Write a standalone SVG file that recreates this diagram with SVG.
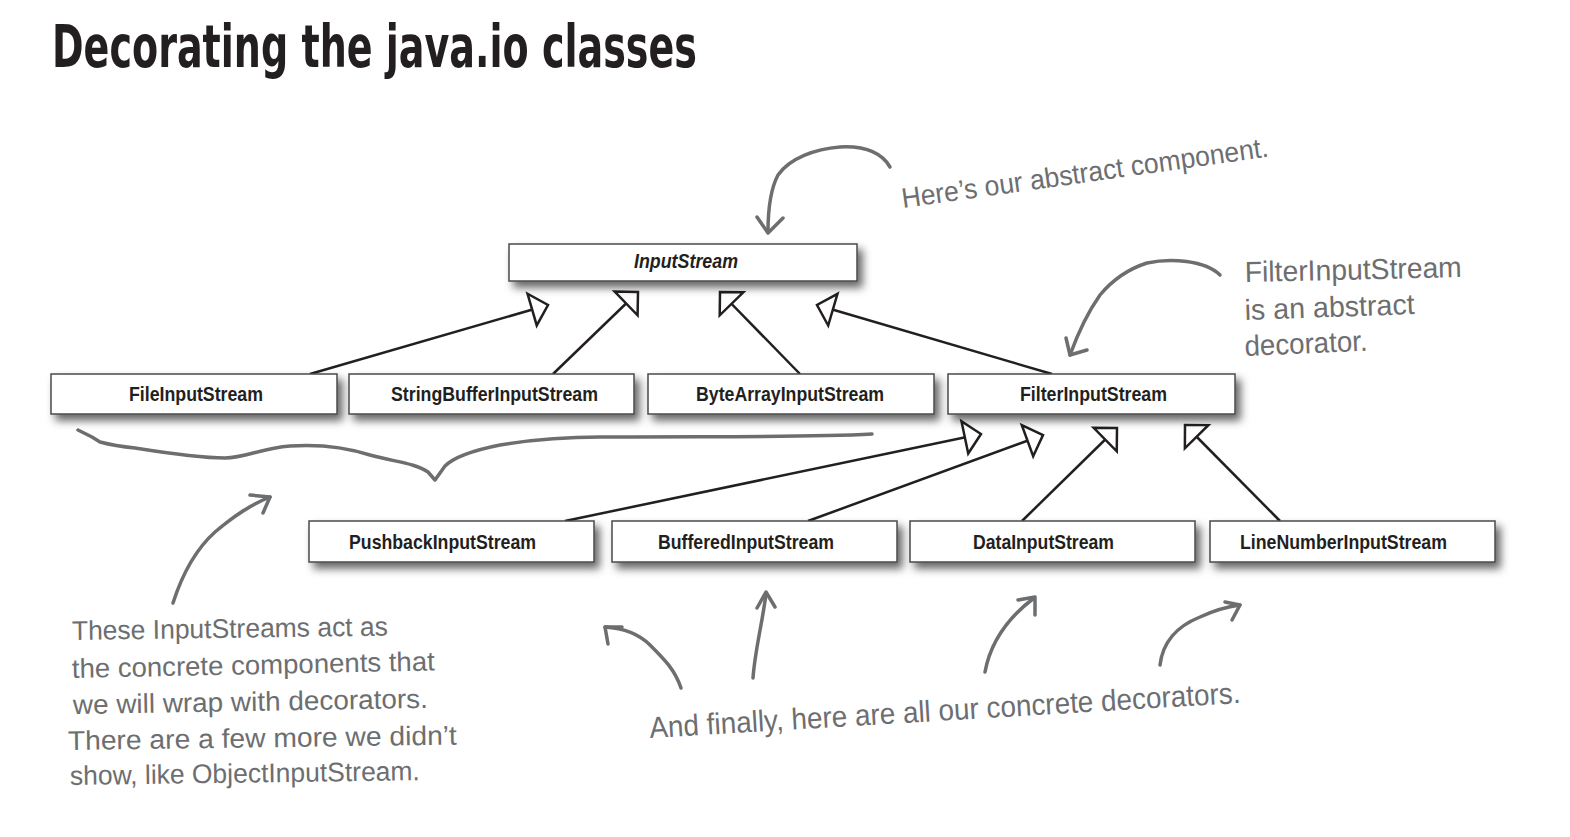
<svg xmlns="http://www.w3.org/2000/svg" width="1570" height="837" viewBox="0 0 1570 837">
<style>
.box{fill:#fff;stroke:#4a4a4a;stroke-width:1.5;filter:url(#sh)}
.lbl{font-family:"Liberation Sans",Arial,sans-serif;font-weight:bold;font-size:21px;fill:#231f20;text-anchor:start}
.edge{stroke:#231f20;stroke-width:2.5;fill:none;marker-end:url(#tri)}
.hand{font-family:"Liberation Sans","DejaVu Sans",sans-serif;fill:#6d6e70}
.pen{stroke:#6d6e70;stroke-width:3.5;fill:none;stroke-linecap:round;stroke-linejoin:round}
.title{font-family:"DejaVu Sans Condensed","DejaVu Sans",sans-serif;font-stretch:condensed;font-weight:bold;font-size:58px;fill:#231f20}
</style>
<defs>
<filter id="sh" x="-10%" y="-40%" width="125%" height="200%">
<feDropShadow dx="5" dy="6" stdDeviation="4" flood-color="#000" flood-opacity="0.6"/>
</filter>
<marker id="tri" markerUnits="userSpaceOnUse" orient="auto" overflow="visible" refX="0" refY="0" markerWidth="1" markerHeight="1">
<path d="M-16.5,-16.5 L0,0 L-16.5,16.5 Z" fill="#fff" stroke="#231f20" stroke-width="2.5" stroke-linejoin="miter"/>
</marker>
</defs>
<rect width="1570" height="837" fill="#fff"/>

<text class="title" x="52" y="67" textLength="645" lengthAdjust="spacingAndGlyphs">Decorating the java.io classes</text>

<g id="connectors">
<path class="edge" d="M310,374 L548,305"/>
<path class="edge" d="M553,374 L638,292"/>
<path class="edge" d="M800,374 L720,292"/>
<path class="edge" d="M1052,374 L817,305"/>
<path class="edge" d="M565,521 L981,434"/>
<path class="edge" d="M808,521 L1043,435"/>
<path class="edge" d="M1022,521 L1117,428"/>
<path class="edge" d="M1280,521 L1185,425"/>
</g>

<g id="InputStream"><rect class="box" x="509" y="244" width="348" height="37"/>
<text class="lbl" x="634" y="268" font-style="italic" textLength="104" lengthAdjust="spacingAndGlyphs">InputStream</text></g>
<g id="FileInputStream"><rect class="box" x="51" y="374" width="286" height="40"/>
<text class="lbl" x="129" y="401" textLength="134" lengthAdjust="spacingAndGlyphs">FileInputStream</text></g>
<g id="StringBufferInputStream"><rect class="box" x="349" y="374" width="285" height="40"/>
<text class="lbl" x="391" y="401" textLength="207" lengthAdjust="spacingAndGlyphs">StringBufferInputStream</text></g>
<g id="ByteArrayInputStream"><rect class="box" x="648" y="374" width="286" height="40"/>
<text class="lbl" x="696" y="401" textLength="188" lengthAdjust="spacingAndGlyphs">ByteArrayInputStream</text></g>
<g id="FilterInputStream"><rect class="box" x="948" y="374" width="287" height="40"/>
<text class="lbl" x="1020" y="401" textLength="147" lengthAdjust="spacingAndGlyphs">FilterInputStream</text></g>
<g id="PushbackInputStream"><rect class="box" x="309" y="521" width="285" height="41"/>
<text class="lbl" x="349" y="549" textLength="187" lengthAdjust="spacingAndGlyphs">PushbackInputStream</text></g>
<g id="BufferedInputStream"><rect class="box" x="612" y="521" width="285" height="41"/>
<text class="lbl" x="658" y="549" textLength="176" lengthAdjust="spacingAndGlyphs">BufferedInputStream</text></g>
<g id="DataInputStream"><rect class="box" x="910" y="521" width="285" height="41"/>
<text class="lbl" x="973" y="549" textLength="141" lengthAdjust="spacingAndGlyphs">DataInputStream</text></g>
<g id="LineNumberInputStream"><rect class="box" x="1210" y="521" width="285" height="41"/>
<text class="lbl" x="1240" y="549" textLength="207" lengthAdjust="spacingAndGlyphs">LineNumberInputStream</text></g>

<g id="annotations">
<path class="pen" d="M890,167 C880,150 860,146 840,147 C815,149 790,158 778,175 C770,190 768,215 768,232"/>
<path class="pen" d="M757,217 L768,233 L783,218"/>
<text class="hand" font-size="28" transform="translate(903,208) rotate(-8)" textLength="370" lengthAdjust="spacingAndGlyphs">Here’s our abstract component.</text>

<path class="pen" d="M1220,275 C1205,260 1170,258 1147,263 C1125,270 1110,283 1100,295 C1088,312 1078,333 1070,355"/>
<path class="pen" d="M1066,338 L1070,355 L1087,350"/>
<text class="hand" font-size="29" transform="translate(1245,282) rotate(-1.3)" textLength="217" lengthAdjust="spacingAndGlyphs">FilterInputStream</text>
<text class="hand" font-size="29" transform="translate(1245,320) rotate(-2)" textLength="170" lengthAdjust="spacingAndGlyphs">is an abstract</text>
<text class="hand" font-size="29" transform="translate(1245,356) rotate(-2.5)" textLength="123" lengthAdjust="spacingAndGlyphs">decorator.</text>

<path class="pen" d="M78,430 L92,437 L100,442 C115,446 125,447 135,448 C160,452 200,458 225,458 C245,458 262,448 290,446 C320,444 345,447 370,455 C395,462 415,463 428,472 L435,480 L445,466 C455,456 475,450 500,445 C530,440 560,437 600,437 C700,436 800,438 872,434"/>

<path class="pen" d="M173,603 C182,575 195,550 215,532 C235,515 250,505 270,497"/>
<path class="pen" d="M250,495 L270,497 L263,513"/>
<text class="hand" font-size="27" transform="translate(72,640) rotate(-0.8)" textLength="316" lengthAdjust="spacingAndGlyphs">These InputStreams act as</text>
<text class="hand" font-size="27" transform="translate(72,678) rotate(-1.2)" textLength="363" lengthAdjust="spacingAndGlyphs">the concrete components that</text>
<text class="hand" font-size="27" transform="translate(73,714) rotate(-1)" textLength="355" lengthAdjust="spacingAndGlyphs">we will wrap with decorators.</text>
<text class="hand" font-size="27" transform="translate(68,750) rotate(-0.8)" textLength="389" lengthAdjust="spacingAndGlyphs">There are a few more we didn’t</text>
<text class="hand" font-size="27" transform="translate(70,785) rotate(-0.8)" textLength="350" lengthAdjust="spacingAndGlyphs">show, like ObjectInputStream.</text>

<path class="pen" d="M681,688 C675,670 665,660 650,645 C637,632 620,628 605,627"/>
<path class="pen" d="M608,644 L605,627 L622,627"/>
<path class="pen" d="M753,678 C755,650 762,625 766,594"/>
<path class="pen" d="M757,608 L766,592 L775,607"/>
<path class="pen" d="M985,672 C990,645 1005,620 1034,598"/>
<path class="pen" d="M1018,600 L1035,597 L1035,615"/>
<path class="pen" d="M1160,665 C1163,640 1180,625 1200,617 C1215,610 1225,607 1240,605"/>
<path class="pen" d="M1225,602 L1240,605 L1232,620"/>
<text class="hand" font-size="30" transform="translate(650,738) rotate(-3.4)" textLength="592" lengthAdjust="spacingAndGlyphs">And finally, here are all our concrete decorators.</text>
</g>
</svg>
